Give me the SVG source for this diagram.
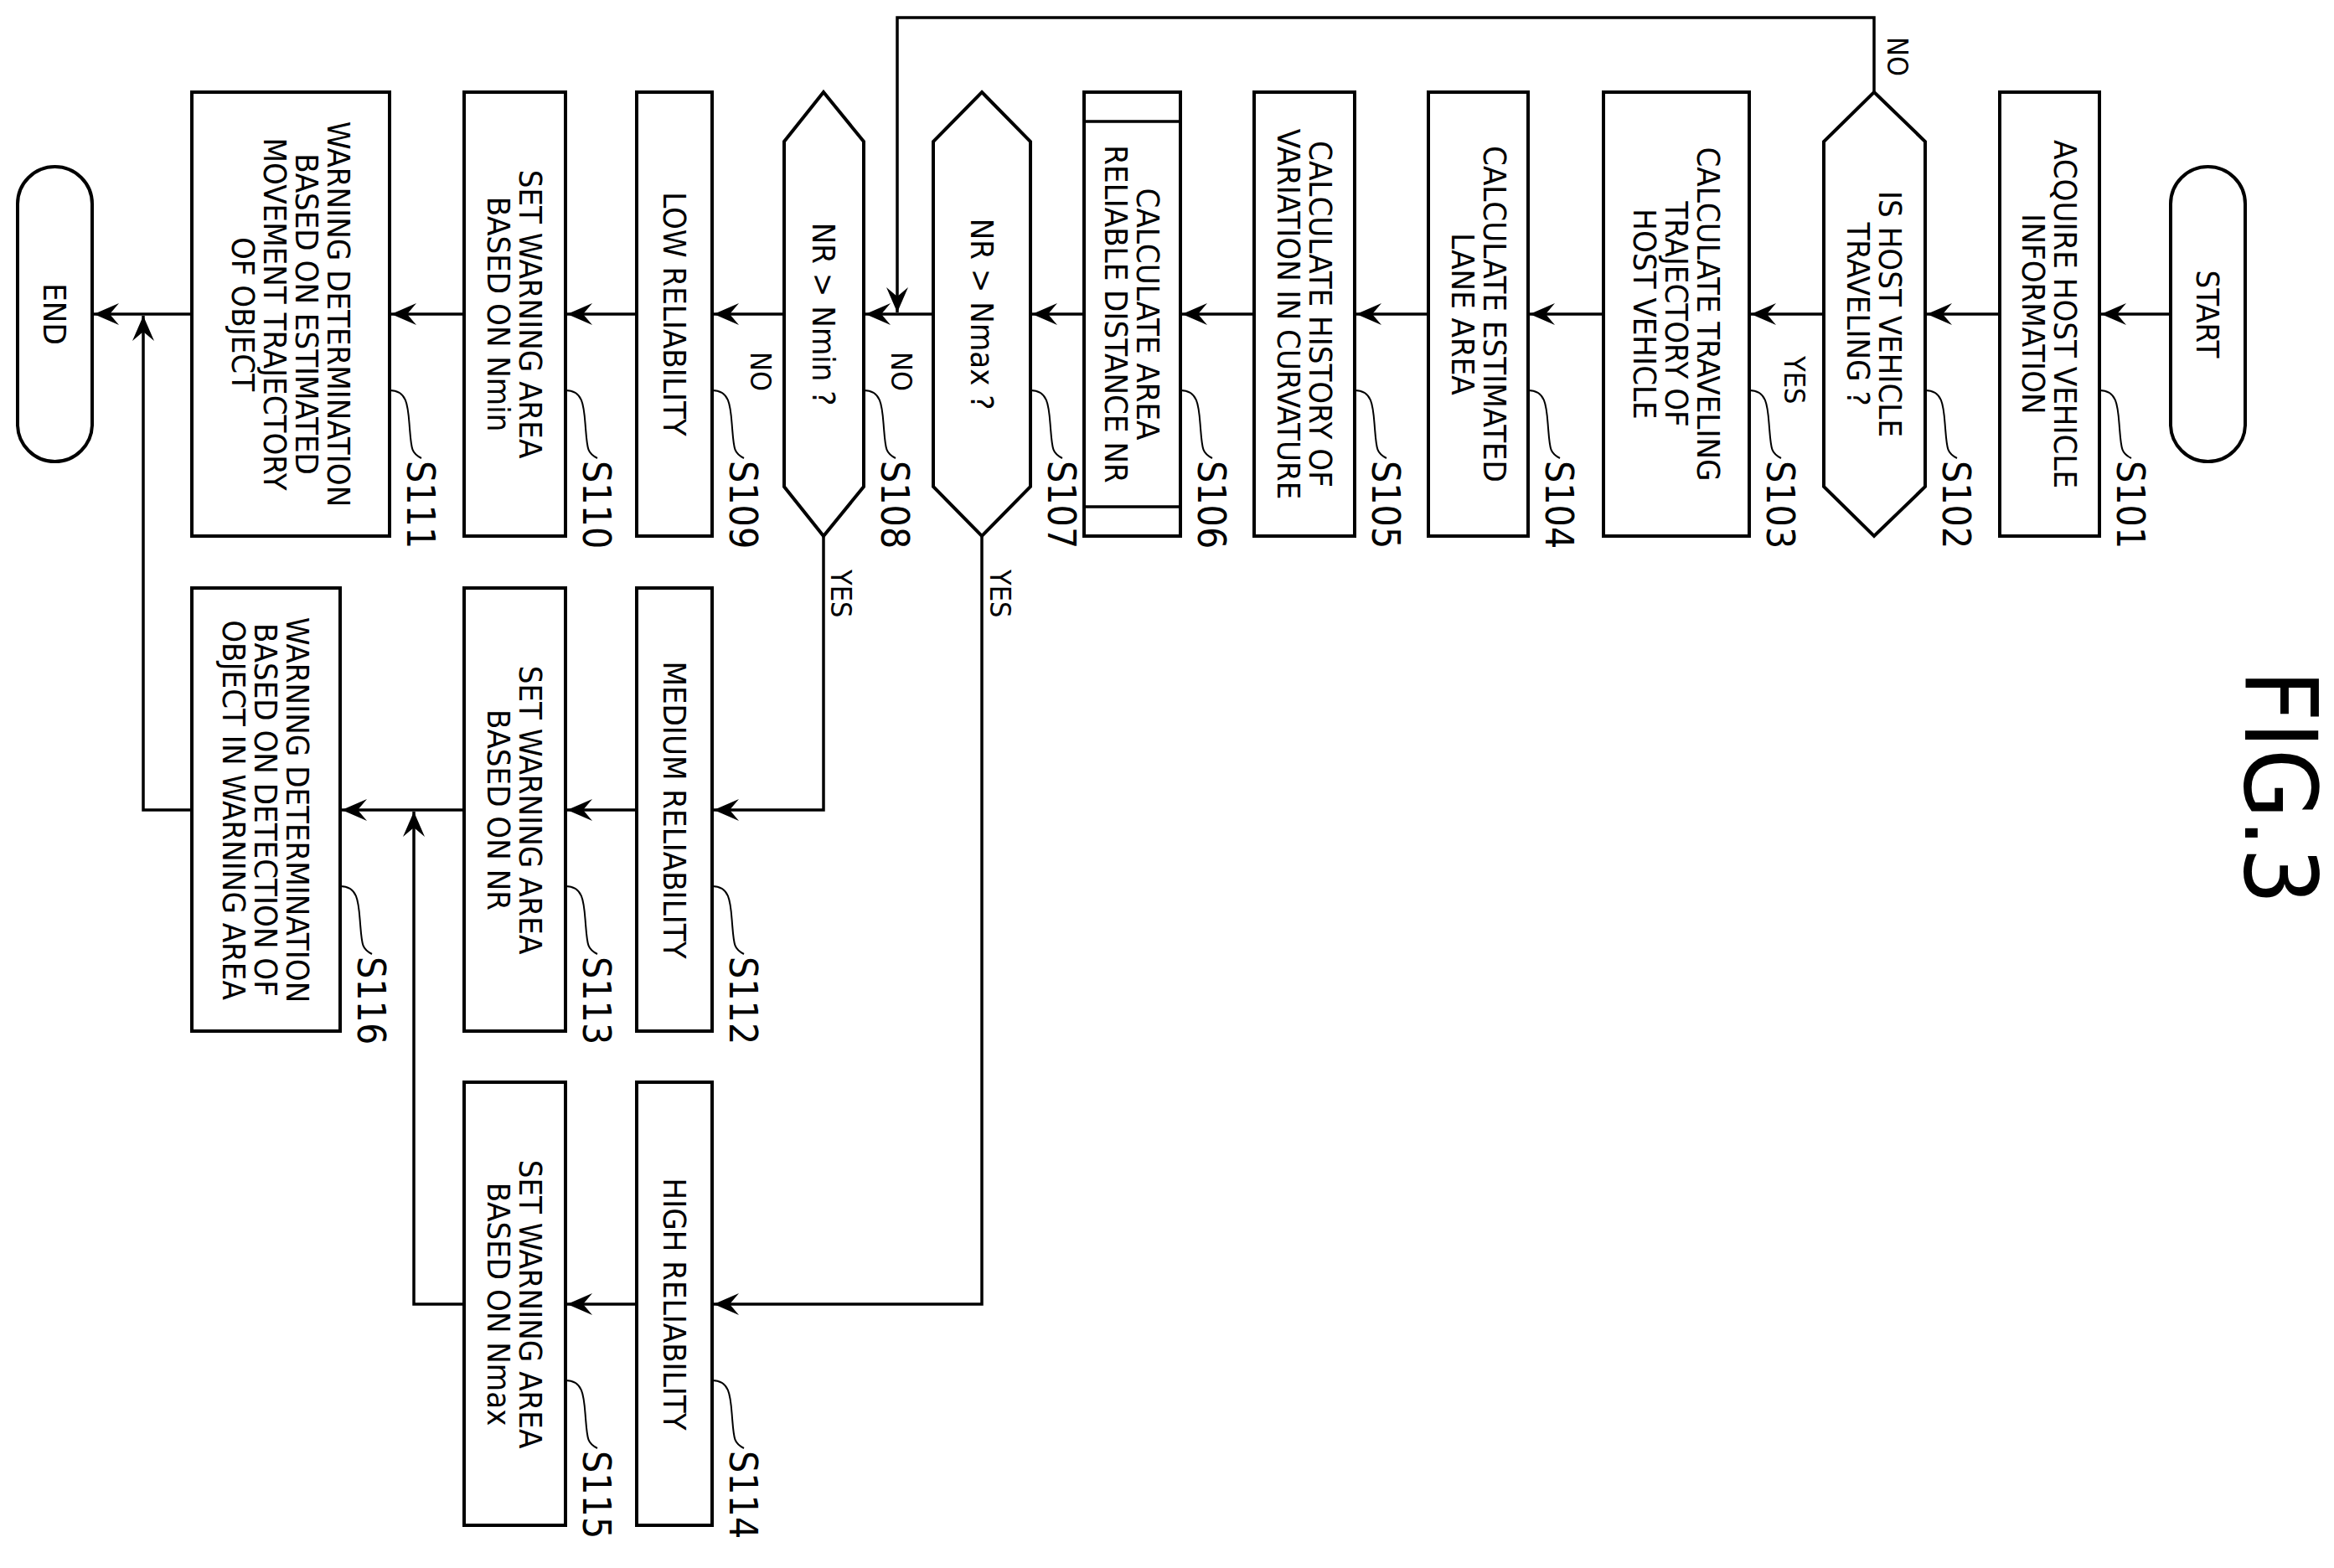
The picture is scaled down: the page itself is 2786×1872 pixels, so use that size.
<svg xmlns="http://www.w3.org/2000/svg" width="2786" height="1872" viewBox="0 0 2786 1872">
<style>
.b{fill:#fff;stroke:#000;stroke-width:4}
.c{fill:none;stroke:#000;stroke-width:3.5}
.l{fill:none;stroke:#000;stroke-width:2}
text{font-family:"DejaVu Sans Condensed","Liberation Sans",sans-serif;font-size:38px;fill:#000;text-anchor:middle}
.s{font-size:46px;text-anchor:start}
.y{font-size:34px;text-anchor:start}
</style>
<defs>
<marker id="a" markerUnits="userSpaceOnUse" markerWidth="40" markerHeight="30" refX="0" refY="0" viewBox="-30 -15 32 30" orient="auto">
<path d="M0,0 L-30,-13 L-19,0 L-30,13 Z" fill="#000"/>
</marker>
</defs>
<rect width="2786" height="1872" fill="#fff"/>
<g id="connectors">
<path class="c" d="M2591,375 H2508" marker-end="url(#a)"/>
<path class="c" d="M2387,375 H2300" marker-end="url(#a)"/>
<path class="c" d="M2177,375 H2090" marker-end="url(#a)"/>
<path class="c" d="M1914,375 H1826" marker-end="url(#a)"/>
<path class="c" d="M1705,375 H1619" marker-end="url(#a)"/>
<path class="c" d="M1497,375 H1411" marker-end="url(#a)"/>
<path class="c" d="M1294,375 H1232" marker-end="url(#a)"/>
<path class="c" d="M1114,375 H1033" marker-end="url(#a)"/>
<path class="c" d="M2237,110 V21 H1071 V373" marker-end="url(#a)"/>
<path class="c" d="M936,375 H852" marker-end="url(#a)"/>
<path class="c" d="M760,375 H677" marker-end="url(#a)"/>
<path class="c" d="M554,375 H467" marker-end="url(#a)"/>
<path class="c" d="M229,375 H112" marker-end="url(#a)"/>
<path class="c" d="M983,640 V967 H852" marker-end="url(#a)"/>
<path class="c" d="M760,967 H677" marker-end="url(#a)"/>
<path class="c" d="M554,967 H408" marker-end="url(#a)"/>
<path class="c" d="M1172,640 V1557 H852" marker-end="url(#a)"/>
<path class="c" d="M760,1557 H677" marker-end="url(#a)"/>
<path class="c" d="M554,1557 H494 V969" marker-end="url(#a)"/>
<path class="c" d="M229,967 H171 V377" marker-end="url(#a)"/>
<text class="y" transform="translate(2253,44) rotate(90)">NO</text>
<text class="y" transform="translate(2130,425) rotate(90)">YES</text>
<text class="y" transform="translate(1064,420) rotate(90)">NO</text>
<text class="y" transform="translate(896,420) rotate(90)">NO</text>
<text class="y" transform="translate(992,680) rotate(90)">YES</text>
<text class="y" transform="translate(1182,680) rotate(90)">YES</text>
</g>
<g id="START"><rect class="b" x="2591" y="199" width="89" height="352" rx="44.5"/><text transform="translate(2635,375) rotate(90)" y="13">START</text></g>
<g id="S101"><rect class="b" x="2387" y="110" width="119" height="530"/><text transform="translate(2446,375) rotate(90)"><tspan x="0" y="-6">ACQUIRE HOST VEHICLE</tspan><tspan x="0" y="32">INFORMATION</tspan></text>
<path class="l" d="M2506,466 c22,0 22,20 24,45 s2,30 14,36"/><text class="s" transform="translate(2527,550) rotate(90)">S101</text></g>
<g id="S102"><path class="b" d="M2237,110 L2298,169 V581 L2237,640 L2177,581 V169 Z"/><text transform="translate(2237,375) rotate(90)"><tspan x="0" y="-6">IS HOST VEHICLE</tspan><tspan x="0" y="32">TRAVELING ?</tspan></text>
<path class="l" d="M2298,466 c22,0 22,20 24,45 s2,30 14,36"/><text class="s" transform="translate(2319,550) rotate(90)">S102</text></g>
<g id="S103"><rect class="b" x="1914" y="110" width="174" height="530"/><text transform="translate(2001,375) rotate(90)"><tspan x="0" y="-25">CALCULATE TRAVELING</tspan><tspan x="0" y="13">TRAJECTORY OF</tspan><tspan x="0" y="51">HOST VEHICLE</tspan></text>
<path class="l" d="M2088,466 c22,0 22,20 24,45 s2,30 14,36"/><text class="s" transform="translate(2109,550) rotate(90)">S103</text></g>
<g id="S104"><rect class="b" x="1705" y="110" width="119" height="530"/><text transform="translate(1765,375) rotate(90)"><tspan x="0" y="-6">CALCULATE ESTIMATED</tspan><tspan x="0" y="32">LANE AREA</tspan></text>
<path class="l" d="M1824,466 c22,0 22,20 24,45 s2,30 14,36"/><text class="s" transform="translate(1845,550) rotate(90)">S104</text></g>
<g id="S105"><rect class="b" x="1497" y="110" width="120" height="530"/><text transform="translate(1557,375) rotate(90)"><tspan x="0" y="-6">CALCULATE HISTORY OF</tspan><tspan x="0" y="32">VARIATION IN CURVATURE</tspan></text>
<path class="l" d="M1617,466 c22,0 22,20 24,45 s2,30 14,36"/><text class="s" transform="translate(1638,550) rotate(90)">S105</text></g>
<g id="S106"><rect class="b" x="1294" y="110" width="115" height="530"/><path class="c" d="M1294,145 H1409 M1294,605 H1409"/><text transform="translate(1351,375) rotate(90)"><tspan x="0" y="-6">CALCULATE AREA</tspan><tspan x="0" y="32">RELIABLE DISTANCE NR</tspan></text>
<path class="l" d="M1409,466 c22,0 22,20 24,45 s2,30 14,36"/><text class="s" transform="translate(1430,550) rotate(90)">S106</text></g>
<g id="S107"><path class="b" d="M1172,110 L1230,169 V581 L1172,640 L1114,581 V169 Z"/><text transform="translate(1172,375) rotate(90)" y="13">NR &gt; Nmax ?</text>
<path class="l" d="M1230,466 c22,0 22,20 24,45 s2,30 14,36"/><text class="s" transform="translate(1251,550) rotate(90)">S107</text></g>
<g id="S108"><path class="b" d="M983,110 L1031,169 V581 L983,640 L936,581 V169 Z"/><text transform="translate(983,375) rotate(90)" y="13">NR &gt; Nmin ?</text>
<path class="l" d="M1031,466 c22,0 22,20 24,45 s2,30 14,36"/><text class="s" transform="translate(1052,550) rotate(90)">S108</text></g>
<g id="S109"><rect class="b" x="760" y="110" width="90" height="530"/><text transform="translate(805,375) rotate(90)" y="13">LOW RELIABILITY</text>
<path class="l" d="M850,466 c22,0 22,20 24,45 s2,30 14,36"/><text class="s" transform="translate(871,550) rotate(90)">S109</text></g>
<g id="S110"><rect class="b" x="554" y="110" width="121" height="530"/><text transform="translate(614,375) rotate(90)"><tspan x="0" y="-6">SET WARNING AREA</tspan><tspan x="0" y="32">BASED ON Nmin</tspan></text>
<path class="l" d="M675,466 c22,0 22,20 24,45 s2,30 14,36"/><text class="s" transform="translate(696,550) rotate(90)">S110</text></g>
<g id="S111"><rect class="b" x="229" y="110" width="236" height="530"/><text transform="translate(347,375) rotate(90)"><tspan x="0" y="-44">WARNING DETERMINATION</tspan><tspan x="0" y="-6">BASED ON ESTIMATED</tspan><tspan x="0" y="32">MOVEMENT TRAJECTORY</tspan><tspan x="0" y="70">OF OBJECT</tspan></text>
<path class="l" d="M465,466 c22,0 22,20 24,45 s2,30 14,36"/><text class="s" transform="translate(486,550) rotate(90)">S111</text></g>
<g id="END"><rect class="b" x="21" y="199" width="89" height="352" rx="44.5"/><text transform="translate(65,375) rotate(90)" y="13">END</text></g>
<g id="S112"><rect class="b" x="760" y="702" width="90" height="529"/><text transform="translate(805,967) rotate(90)" y="13">MEDIUM RELIABILITY</text>
<path class="l" d="M850,1058 c22,0 22,20 24,45 s2,30 14,36"/><text class="s" transform="translate(871,1142) rotate(90)">S112</text></g>
<g id="S113"><rect class="b" x="554" y="702" width="121" height="529"/><text transform="translate(614,967) rotate(90)"><tspan x="0" y="-6">SET WARNING AREA</tspan><tspan x="0" y="32">BASED ON NR</tspan></text>
<path class="l" d="M675,1058 c22,0 22,20 24,45 s2,30 14,36"/><text class="s" transform="translate(696,1142) rotate(90)">S113</text></g>
<g id="S116"><rect class="b" x="229" y="702" width="177" height="529"/><text transform="translate(317,967) rotate(90)"><tspan x="0" y="-25">WARNING DETERMINATION</tspan><tspan x="0" y="13">BASED ON DETECTION OF</tspan><tspan x="0" y="51">OBJECT IN WARNING AREA</tspan></text>
<path class="l" d="M406,1058 c22,0 22,20 24,45 s2,30 14,36"/><text class="s" transform="translate(427,1142) rotate(90)">S116</text></g>
<g id="S114"><rect class="b" x="760" y="1292" width="90" height="529"/><text transform="translate(805,1557) rotate(90)" y="13">HIGH RELIABILITY</text>
<path class="l" d="M850,1648 c22,0 22,20 24,45 s2,30 14,36"/><text class="s" transform="translate(871,1732) rotate(90)">S114</text></g>
<g id="S115"><rect class="b" x="554" y="1292" width="121" height="529"/><text transform="translate(614,1557) rotate(90)"><tspan x="0" y="-6">SET WARNING AREA</tspan><tspan x="0" y="32">BASED ON Nmax</tspan></text>
<path class="l" d="M675,1648 c22,0 22,20 24,45 s2,30 14,36"/><text class="s" transform="translate(696,1732) rotate(90)">S115</text></g>
<text style="font-size:120px;text-anchor:middle" transform="translate(2680,940) rotate(90)">FIG.3</text>
</svg>
